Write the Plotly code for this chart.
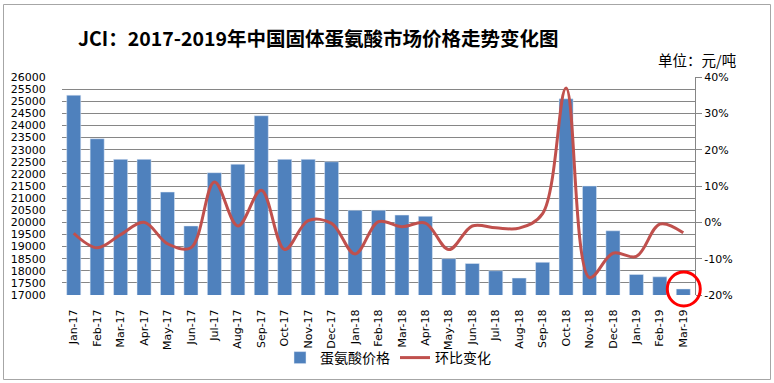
import plotly.graph_objects as go

months = ["Jan-17", "Feb-17", "Mar-17", "Apr-17", "May-17", "Jun-17", "Jul-17", "Aug-17", "Sep-17",
          "Oct-17", "Nov-17", "Dec-17", "Jan-18", "Feb-18", "Mar-18", "Apr-18", "May-18", "Jun-18",
          "Jul-18", "Aug-18", "Sep-18", "Oct-18", "Nov-18", "Dec-18", "Jan-19", "Feb-19", "Mar-19"]
price = [25250, 23450, 22600, 22600, 21250, 19850, 22050, 22400, 24400,
         22600, 22600, 22500, 20500, 20500, 20300, 20250, 18500, 18300,
         18000, 17700, 18350, 25100, 21500, 19650, 17850, 17750, 17250]
mom_pct = [-3.0, -7.0, -3.4, 0.0, -5.9, -7.0, 11.1, -1.0, 8.8,
           -7.5, 0.5, -0.3, -8.7, 0.2, -1.2, -0.2, -7.5, -1.0,
           -1.5, -1.6, 2.4, 37.0, -15.2, -8.5, -9.4, -0.5, -2.9]
left_ticks = list(range(17000, 26001, 500))
right_ticks = [-20, -10, 0, 10, 20, 30, 40]

title = "JCI：2017-2019年中国固体蛋氨酸市场价格走势变化图"
unit = "单位：元/吨"

L, R, T, B = 62, 79, 77, 88
W, H = 774, 383
pw, ph = W - L - R, H - T - B
ymin, ymax = 17000, 26000

fig = go.Figure()
fig.add_trace(go.Bar(x=months, y=price, name="蛋氨酸价格", marker_color="#4F81BD",
                     yaxis="y"))
fig.add_trace(go.Scatter(x=months, y=mom_pct, name="环比变化", mode="lines",
                         line=dict(color="#C0504D", width=3, shape="spline", smoothing=1.0),
                         yaxis="y2"))

tickfont = dict(family="DejaVu Sans", size=11, color="#000000")

# highlight circle around the last bar (paper coords derived from category index / value)
last_i = len(months) - 1
cx = (last_i + 0.5) / len(months)
cy = (price[-1] - ymin) / (ymax - ymin)

def px_x(p):
    return (p - L) / pw

def px_y(p):
    return 1 - (p - T) / ph

fig.update_layout(
    width=W, height=H,
    margin=dict(l=L, r=R, t=T, b=B, pad=0, autoexpand=False),
    paper_bgcolor="white", plot_bgcolor="white",
    bargap=0.4,
    showlegend=True,
    legend=dict(orientation="h", x=px_x(388), xanchor="center",
                y=px_y(358), yanchor="middle", bgcolor="rgba(0,0,0,0)",
                font=dict(family="Noto Sans CJK SC", size=14, color="#000000"),
                itemwidth=30, tracegroupgap=0),
    xaxis=dict(type="category", tickangle=-90, tickfont=tickfont, showgrid=False,
               showline=False, ticks="outside", ticklen=9, tickcolor="rgba(0,0,0,0)"),
    yaxis=dict(range=[ymin, ymax], tickvals=left_ticks, tickformat="d", tickfont=tickfont,
               showgrid=True, gridcolor="#868686", gridwidth=1, zeroline=False,
               showline=False, ticks="outside", ticklen=0, ticklabelstandoff=13),
    yaxis2=dict(range=[-20, 40], tickvals=right_ticks, ticktext=[f"{v}%" for v in right_ticks],
                overlaying="y", side="right", tickfont=tickfont, showgrid=False,
                zeroline=False, showline=True, linecolor="#868686", linewidth=1,
                ticks="outside", ticklen=6, tickcolor="#868686"),
    annotations=[
        dict(text="<b>" + title + "</b>", xref="paper", yref="paper",
             x=px_x(318), y=px_y(37), xanchor="center", yanchor="middle",
             showarrow=False, font=dict(family="Noto Sans CJK SC", size=19.5, color="#000000")),
        dict(text=unit, xref="paper", yref="paper",
             x=px_x(738), y=px_y(59), xanchor="right", yanchor="middle",
             showarrow=False, font=dict(family="Noto Sans CJK SC", size=14.5, color="#000000")),
    ],
    shapes=[
        dict(type="circle", xref="paper", yref="paper", xsizemode="pixel", ysizemode="pixel",
             xanchor=cx, yanchor=cy, x0=-16, x1=17, y0=-17, y1=17,
             line=dict(color="#FF0000", width=3)),
        dict(type="rect", xref="paper", yref="paper",
             x0=px_x(3.5), x1=px_x(770.5), y0=px_y(379.5), y1=px_y(4.5),
             line=dict(color="#A6A6A6", width=1)),
    ],
)

fig.write_html("out.html", post_script="document.body.style.margin='0';",
               config={"displayModeBar": False})
